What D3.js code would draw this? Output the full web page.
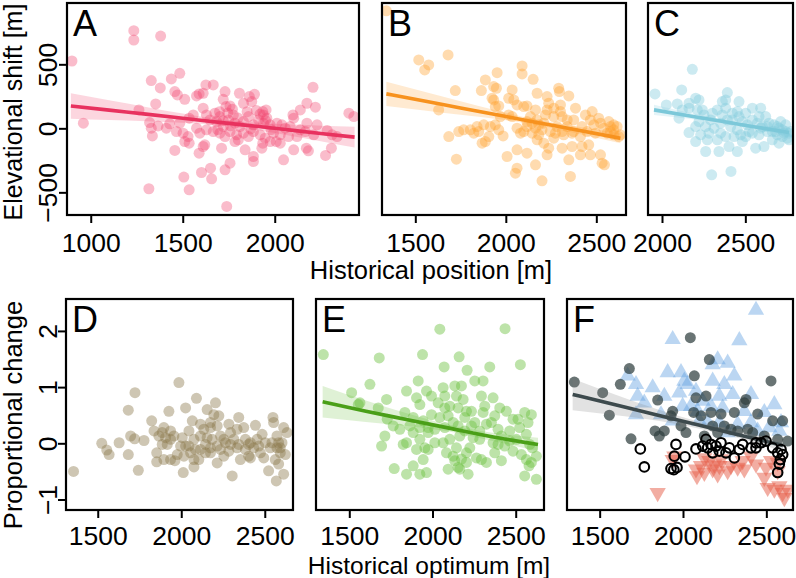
<!DOCTYPE html>
<html><head><meta charset="utf-8">
<script src="https://cdn.jsdelivr.net/npm/d3@7"></script>
<style>
body{margin:0;background:#fff}
svg{display:block}
text{font-family:"Liberation Sans",Arial,Helvetica,sans-serif;fill:#000}
</style>
</head><body>
<svg id="chart" width="796" height="578"></svg>
<script>
// ---------------- DATA ----------------
const panelLetters = ["A","B","C","D","E","F"];
const shiftTicks = [-500, 0, 500];
const propTicks = [-1, 0, 1, 2];
const xTicksA = [1000, 1500, 2000];
const xTicksB = [1500, 2000, 2500];
const xTicksC = [2000, 2500];
const xTicksLower = [1500, 2000, 2500];
const labelTopX = "Historical position [m]";
const labelBottomX = "Historical optimum [m]";
const labelTopY = "Elevational shift [m]";
const labelBottomY = "Proportional change";

// [historical position, elevational shift]
const shiftA = [[898,526],[960,40],[1234,763],[1234,690],[1380,721],[2208,321],[1438,386],[1484,430],[1329,373],[1378,316],[1457,287],[1471,261],[1511,227],[1575,253],[1589,269],[1626,339],[1666,339],[1611,274],[1730,287],[1808,274],[1862,248],[1890,266],[1720,227],[1735,170],[1757,175],[1830,196],[1875,209],[1953,144],[1935,131],[1939,105],[1353,191],[1262,144],[2175,196],[2221,165],[2139,144],[2099,105],[2103,79],[2403,118],[2430,92],[1320,45],[1366,19],[1429,35],[1484,40],[1535,79],[1557,105],[1611,157],[1629,105],[1648,66],[1675,118],[1684,53],[1702,92],[1720,14],[1748,66],[1775,105],[1784,40],[1811,14],[1830,53],[1857,92],[1884,27],[1912,66],[1939,40],[1957,79],[1975,27],[2012,40],[2039,27],[2057,1],[2084,14],[2139,-12],[2175,40],[2230,27],[2285,-17],[2312,-51],[2339,-64],[1329,1],[1335,-59],[1411,1],[1466,-25],[1502,-38],[1529,-64],[1575,1],[1593,-38],[1629,-12],[1666,-25],[1702,-38],[1730,-64],[1757,-25],[1793,-51],[1830,-38],[1857,-64],[1884,-25],[1921,-51],[1948,-77],[1993,-38],[2030,-51],[2075,-64],[2121,-64],[2166,-25],[2212,-51],[1457,-173],[1511,-103],[1535,-116],[1589,-194],[1611,-142],[1620,-129],[1711,-155],[1784,-103],[1802,-90],[1839,-168],[1884,-220],[1884,-259],[1930,-155],[1975,-103],[2008,-103],[2048,-246],[2103,-168],[2172,-155],[2183,-176],[2276,-212],[2308,-155],[1602,-345],[1651,-311],[1657,-394],[1730,-324],[1757,-272],[1506,-381],[1535,-480],[1316,-472],[1739,-610],[1935,-116],[2030,-116],[1700,130],[1745,120],[1770,150],[1800,80],[1850,130],[1900,140],[1920,110],[1950,60],[1760,20],[1690,-10],[1870,-5],[1980,-10],[1720,60]];
const shiftB = [[1340,918],[1519,534],[1574,495],[1552,456],[1681,573],[1721,295],[1629,144],[1685,-64],[1740,-25],[1727,-241],[1767,-12],[1841,14],[1850,-25],[1823,-38],[1869,-116],[1887,-103],[1865,295],[1887,378],[1952,435],[1933,326],[1948,313],[1924,235],[1942,170],[1961,175],[1915,14],[1942,27],[1961,-12],[1985,-59],[2016,105],[2035,300],[2016,235],[2044,222],[2062,1],[2081,-38],[2090,487],[2090,425],[2151,383],[2173,274],[2099,170],[2117,175],[2164,144],[2136,92],[2145,40],[2164,1],[2182,27],[2200,-12],[2219,105],[2228,248],[2237,196],[2265,92],[2292,313],[2296,287],[2302,183],[2302,131],[2348,253],[2385,157],[2283,14],[2311,-25],[2339,14],[2375,-25],[2421,14],[2440,105],[2477,131],[2486,27],[2513,79],[2523,40],[2541,1],[2569,53],[2578,14],[2596,-12],[2615,14],[2624,-64],[2596,-51],[2578,-25],[2007,-220],[2062,-168],[2117,-194],[2053,-350],[2062,-311],[2164,-285],[2200,-410],[2228,-207],[2237,-155],[2173,-90],[2210,-116],[2265,-77],[2311,-155],[2348,-246],[2357,-376],[2366,-142],[2412,-207],[2421,-142],[2458,-129],[2467,-207],[2523,-207],[2532,-272],[2545,-285],[2117,14],[2099,-25],[2145,-38],[2182,-51],[2246,-25],[2274,-38],[2320,-51],[2366,-38],[2412,-64],[2449,-25],[2495,-38],[2035,92],[2062,183],[2228,144],[2265,157],[2311,92],[2339,66],[2375,66],[2173,66],[2210,40],[2117,53],[1970,92],[1878,27],[1906,-64],[1804,-12],[1933,222],[2467,66],[2560,-38],[2596,27],[2633,-51]];
const shiftC = [[2182,461],[1958,269],[2118,300],[2026,183],[2092,191],[2162,196],[2202,235],[2222,222],[2392,279],[2382,222],[2362,209],[2462,209],[2102,79],[2162,157],[2212,144],[2252,105],[2302,118],[2332,144],[2362,105],[2422,118],[2452,131],[2502,118],[2542,157],[2592,157],[2622,92],[2582,92],[2162,-33],[2202,14],[2222,53],[2262,14],[2282,-38],[2312,1],[2352,40],[2392,66],[2412,14],[2452,-12],[2482,53],[2512,27],[2542,66],[2572,40],[2602,14],[2642,40],[2672,27],[2702,1],[2722,-12],[2742,-25],[2762,-38],[2752,-77],[2722,-64],[2692,-51],[2662,-25],[2632,-25],[2582,-51],[2542,-38],[2502,-64],[2472,-51],[2432,-64],[2382,-64],[2332,-90],[2272,-90],[2202,-103],[2262,-181],[2342,-181],[2402,-142],[2452,-181],[2562,-155],[2612,-142],[2702,-116],[2662,-90],[2298,-363],[2414,-337],[2762,-90],[2772,-25],[2712,53],[2422,66],[2292,66],[2462,92],[2242,144],[2122,144],[2382,157],[2522,-25],[2592,1],[2632,14],[2682,-25],[2732,-38],[2742,27],[2692,14],[2352,-38],[2232,-51],[2482,-103]];

// [historical optimum, proportional change]
const propD = [[1355,-0.50],[1524,0.00],[1554,-0.12],[1568,-0.20],[1628,0.01],[1683,0.59],[1723,0.90],[1683,-0.20],[1697,0.13],[1721,0.08],[1777,0.05],[1743,-0.48],[1823,0.40],[1837,0.22],[1866,0.13],[1886,0.19],[1906,0.10],[1936,0.22],[1936,0.07],[1956,0.13],[1853,-0.17],[1853,-0.33],[1896,-0.29],[1936,-0.29],[1962,-0.31],[1926,0.57],[1986,1.08],[2026,0.63],[2091,0.80],[2066,0.40],[2016,-0.23],[2012,-0.52],[2046,0.22],[2026,-0.05],[2076,0.07],[2085,-0.11],[2076,-0.29],[2076,-0.42],[2105,-0.29],[2115,0.13],[2145,-0.02],[2155,0.60],[2175,0.37],[2175,0.28],[2205,0.72],[2195,0.51],[2225,0.49],[2155,0.10],[2185,0.07],[2215,-0.05],[2175,-0.17],[2235,-0.11],[2265,0.01],[2235,0.13],[2215,-0.35],[2255,-0.23],[2285,-0.14],[2295,0.19],[2285,0.34],[2344,0.46],[2334,0.25],[2315,0.07],[2344,-0.02],[2374,0.28],[2384,0.07],[2404,-0.02],[2444,0.32],[2434,-0.08],[2414,-0.26],[2305,-0.58],[2354,-0.29],[2404,-0.23],[2464,-0.05],[2484,0.16],[2503,0.01],[2494,-0.26],[2523,-0.49],[2549,0.46],[2553,0.37],[2573,0.13],[2543,0.01],[2573,-0.08],[2593,-0.17],[2563,-0.29],[2583,-0.37],[2613,-0.55],[2569,-0.67],[2613,0.28],[2633,0.19],[2623,-0.20],[2603,0.01],[2135,0.25],[2115,-0.11],[2145,-0.17],[2295,-0.02],[2215,0.31],[2175,-0.08],[2384,-0.11],[2474,-0.17],[2533,-0.08],[1916,-0.02],[1886,-0.02],[1996,-0.05],[2046,-0.05],[2056,-0.17],[2006,0.10],[1896,0.28],[1976,-0.20],[2115,0.34],[2255,0.07],[2334,-0.08],[2414,0.01],[2454,0.07],[2593,-0.08],[2583,0.01]];
const propE = [[1344,1.58],[1680,1.52],[1624,1.05],[1514,0.90],[1564,0.72],[1554,0.69],[1674,0.63],[1724,0.78],[1728,0.43],[1714,0.13],[1694,-0.05],[1770,-0.45],[2044,2.03],[2436,2.04],[1940,1.58],[2160,1.54],[2070,1.36],[2208,1.30],[2344,1.36],[2528,1.40],[2254,1.11],[2304,1.11],[1914,1.11],[1964,0.93],[1844,0.93],[2064,0.99],[2134,1.02],[2174,1.02],[1904,0.81],[1924,0.69],[1994,0.84],[2034,0.72],[2074,0.84],[2104,0.66],[2144,0.84],[2184,0.78],[2204,0.57],[2234,0.57],[2294,0.84],[2364,0.81],[2314,0.66],[2404,0.63],[2444,0.57],[2374,0.49],[2484,0.43],[2554,0.55],[2594,0.51],[2574,0.37],[2524,0.28],[2564,0.16],[1834,0.55],[1884,0.46],[1944,0.40],[1994,0.51],[2044,0.46],[1864,0.31],[1924,0.28],[1974,0.19],[2014,0.25],[2074,0.28],[2124,0.37],[2154,0.31],[2194,0.22],[2234,0.31],[2284,0.22],[2324,0.34],[2354,0.37],[2394,0.25],[2414,0.13],[2464,0.22],[2504,0.07],[1844,0.01],[1824,-0.02],[1924,0.07],[1954,-0.08],[1904,-0.11],[1944,-0.29],[1884,-0.40],[1844,-0.55],[1924,-0.55],[1964,-0.52],[2014,0.01],[2084,-0.17],[2124,-0.23],[2134,-0.31],[2164,-0.46],[2174,-0.28],[2204,-0.17],[2224,-0.08],[2214,-0.55],[2264,-0.26],[2294,-0.29],[2324,-0.34],[2374,-0.17],[2414,-0.31],[2434,-0.05],[2484,-0.14],[2534,-0.20],[2564,-0.29],[2580,-0.40],[2594,-0.34],[2554,-0.58],[2624,-0.64],[2624,-0.23],[2600,-0.08],[2164,0.13],[2104,0.07],[2284,0.07],[2364,0.01],[2064,0.01],[2144,-0.08],[2094,-0.46],[2154,-0.43],[1974,0.28],[1764,0.31],[1804,0.25],[1974,-0.11],[2394,-0.02],[2464,0.04],[2254,0.37],[2304,0.55],[2094,0.49],[2194,0.46],[1884,0.19],[2514,0.43],[2584,-0.02],[2204,-0.34],[2074,0.63],[2154,0.63],[2244,0.10]];
const propFFilled = [[1348,1.09],[1518,0.90],[1558,0.50],[1678,1.33],[1624,1.05],[1688,0.08],[1832,0.22],[1858,0.13],[1888,0.22],[1848,0.77],[1938,0.57],[1928,0.49],[2018,0.19],[2044,1.88],[2158,1.49],[2068,1.20],[2078,0.81],[2138,0.84],[2064,0.55],[2168,0.55],[2228,0.52],[2308,0.55],[2368,0.72],[2378,0.78],[2448,0.52],[2388,0.25],[2328,0.22],[2178,0.31],[2128,0.13],[2528,1.11],[2538,0.40],[2598,0.40],[2628,0.04],[2418,0.19],[2248,0.31],[2208,0.19],[1988,0.31],[2288,0.25],[2488,0.13],[2568,0.07],[2108,0.49]];
const propFOpen = [[1744,-0.10],[1768,-0.42],[1958,-0.02],[1948,-0.23],[1928,-0.45],[1964,-0.43],[1945,-0.47],[2012,-0.24],[2078,-0.10],[2118,-0.05],[2138,0.07],[2148,-0.08],[2168,-0.02],[2198,-0.05],[2218,-0.14],[2228,0.01],[2258,-0.17],[2278,-0.08],[2308,-0.26],[2338,-0.11],[2358,-0.02],[2408,-0.08],[2438,0.01],[2468,0.01],[2538,-0.08],[2568,-0.17],[2588,-0.11],[2584,-0.29],[2578,-0.37],[2568,-0.52],[2598,-0.20],[2178,-0.17],[2438,-0.08],[2498,0.04]];
const propFUp = [[2438,2.37],[1938,1.85],[2338,1.83],[2208,1.49],[2268,1.43],[2178,1.40],[2308,1.20],[1908,1.26],[1988,1.26],[2178,1.11],[2248,1.05],[2028,1.05],[1818,0.99],[1718,1.05],[1728,0.84],[1668,1.20],[1888,0.84],[1978,0.90],[2078,0.93],[2218,0.84],[2298,0.87],[2408,0.87],[2548,0.69],[1998,0.66],[2168,0.66],[2238,0.63],[2368,0.57],[2488,0.55],[2588,0.37],[1718,0.51],[1868,0.51],[2098,0.40],[2148,0.37],[2218,0.37],[2328,0.34],[2448,0.22],[2578,0.22],[2048,0.66],[1768,0.72],[1938,0.40],[2088,0.57],[2408,0.37],[2518,0.28],[2268,0.19],[2118,0.75],[2008,1.11]];
const propFDown = [[1848,-0.88],[1948,-0.23],[2084,-0.58],[2108,-0.40],[2128,-0.26],[2158,-0.31],[2178,-0.46],[2208,-0.55],[2218,-0.40],[2228,-0.28],[2288,-0.40],[2328,-0.43],[2358,-0.31],[2408,-0.23],[2438,-0.37],[2498,-0.43],[2528,-0.31],[2568,-0.34],[2508,-0.79],[2548,-0.82],[2598,-0.88],[2608,-0.97],[2628,-0.82],[2578,-0.76],[2078,-0.46],[2128,-0.52],[2188,-0.37],[2268,-0.49],[2568,-0.49],[1938,-0.29],[2368,-0.46],[2488,-0.61]];

// regression fits: [x, fitted, lower CI, upper CI]
const fitA = [[892,175,75,275],[1100,142,65,219],[1300,111,55,167],[1500,79,43,115],[1750,39,17,61],[1950,8,-24,40],[2100,-16,-61,29],[2250,-40,-101,21],[2434,-69,-150,12]];
const fitB = [[1340,269,174,364],[1550,213,140,286],[1750,159,106,212],[1950,106,72,140],[2150,52,31,73],[2350,-1,-27,25],[2633,-77,-117,-37]];
const fitC = [[1952,144,104,184],[2150,101,76,126],[2350,57,42,72],[2550,13,1,25],[2762,-33,-53,-13]];
const fitE = [[1340,0.74,0.46,1.02],[1600,0.57,0.38,0.76],[1850,0.42,0.31,0.53],[2100,0.27,0.21,0.33],[2350,0.12,0.05,0.19],[2634,-0.02,-0.14,0.10]];
const fitF = [[1338,0.87,0.59,1.15],[1600,0.68,0.50,0.86],[1850,0.50,0.40,0.60],[2100,0.32,0.26,0.38],[2350,0.14,0.08,0.20],[2600,-0.04,-0.14,0.06]];

// ---------------- LAYOUT ----------------
const FONT = 26.5;
const TITLE_FONT = 25.5;
const svg = d3.select("#chart");
const topDomainY = [-677, 979];
const botDomainY = [-1.187, 2.568];

const panels = [
  {id:0, x0:67,  x1:359, y0:3,   y1:215, xd:[871,2458],  yd:topDomainY, xt:xTicksA, yt:shiftTicks,
   layers:[{type:"circle", data:shiftA, color:"#F0456F", op:0.36}], fit:fitA, fitColor:"#E8325F", bandColor:"#F0456F"},
  {id:1, x0:382, x1:626, y0:3,   y1:215, xd:[1316,2664], yd:topDomainY, xt:xTicksB,
   layers:[{type:"circle", data:shiftB, color:"#FFA12C", op:0.38}], fit:fitB, fitColor:"#F7921E", bandColor:"#FFA12C"},
  {id:2, x0:648, x1:793, y0:3,   y1:215, xd:[1916,2786], yd:topDomainY, xt:xTicksC,
   layers:[{type:"circle", data:shiftC, color:"#86CEDE", op:0.42}], fit:fitC, fitColor:"#7CC8D9", bandColor:"#86CEDE"},
  {id:3, x0:66,  x1:293, y0:299, y1:510, xd:[1310,2669], yd:botDomainY, xt:xTicksLower, yt:propTicks,
   layers:[{type:"circle", data:propD, color:"#8A7649", op:0.42}]},
  {id:4, x0:316, x1:544, y0:299, y1:510, xd:[1300,2670], yd:botDomainY, xt:xTicksLower,
   layers:[{type:"circle", data:propE, color:"#6CC040", op:0.45}], fit:fitE, fitColor:"#4A9F18", bandColor:"#6CC040"},
  {id:5, x0:567, x1:793, y0:299, y1:510, xd:[1304,2660], yd:botDomainY, xt:xTicksLower,
   layers:[
     {type:"up", data:propFUp, color:"#5E9EE0", op:0.42},
     {type:"down", data:propFDown, color:"#E55B45", op:0.5},
     {type:"circle", data:propFFilled, color:"#2F3F3F", op:0.72},
     {type:"fit"},
     {type:"open", data:propFOpen}
   ], fit:fitF, fitColor:"#3D4A4D", bandColor:"#7A7A7A"}
];

const defs = svg.append("defs");

panels.forEach(p => {
  const x = d3.scaleLinear().domain(p.xd).range([p.x0, p.x1]);
  const y = d3.scaleLinear().domain(p.yd).range([p.y1, p.y0]);
  const clipId = "clip" + p.id;
  defs.append("clipPath").attr("id", clipId)
    .append("rect").attr("x", p.x0).attr("y", p.y0).attr("width", p.x1 - p.x0).attr("height", p.y1 - p.y0);
  const g = svg.append("g").attr("clip-path", `url(#${clipId})`);

  const drawFit = () => {
    if (!p.fit) return;
    const area = d3.area().x(d => x(d[0])).y0(d => y(d[2])).y1(d => y(d[3])).curve(d3.curveMonotoneX);
    g.append("path").datum(p.fit).attr("d", area)
      .attr("fill", p.bandColor).attr("fill-opacity", 0.22);
    const line = d3.line().x(d => x(d[0])).y(d => y(d[1])).curve(d3.curveMonotoneX);
    g.append("path").datum(p.fit).attr("d", line)
      .attr("fill", "none").attr("stroke", p.fitColor).attr("stroke-width", 3.6).attr("stroke-linecap", "butt");
  };

  let fitDrawn = false;
  p.layers.forEach(L => {
    if (L.type === "circle") {
      g.append("g").selectAll("circle").data(L.data).join("circle")
        .attr("cx", d => x(d[0])).attr("cy", d => y(d[1])).attr("r", 5.5)
        .attr("fill", L.color).attr("fill-opacity", L.op);
    } else if (L.type === "up" || L.type === "down") {
      const sym = d3.symbol().type(d3.symbolTriangle).size(115);
      g.append("g").selectAll("path").data(L.data).join("path")
        .attr("d", sym)
        .attr("transform", d => `translate(${x(d[0])},${y(d[1])})` + (L.type === "down" ? " rotate(180)" : ""))
        .attr("fill", L.color).attr("fill-opacity", L.op);
    } else if (L.type === "open") {
      g.append("g").selectAll("circle").data(L.data).join("circle")
        .attr("cx", d => x(d[0])).attr("cy", d => y(d[1])).attr("r", 4.8)
        .attr("fill", "none").attr("stroke", "#000").attr("stroke-width", 2.1);
    } else if (L.type === "fit") {
      drawFit(); fitDrawn = true;
    }
  });
  if (!fitDrawn) drawFit();

  // box
  svg.append("rect").attr("x", p.x0).attr("y", p.y0).attr("width", p.x1 - p.x0).attr("height", p.y1 - p.y0)
    .attr("fill", "none").attr("stroke", "#000").attr("stroke-width", 2.2);

  // x axis
  const xa = svg.append("g").attr("transform", `translate(0,${p.y1})`)
    .call(d3.axisBottom(x).tickValues(p.xt).tickSize(8).tickSizeOuter(0).tickPadding(p.y0 < 100 ? 10 : 8.5).tickFormat(d3.format("d")));
  xa.select(".domain").remove();
  xa.selectAll("line").attr("stroke", "#000").attr("stroke-width", 2);
  xa.selectAll("text").attr("font-size", FONT).attr("font-family", null);

  // y axis
  if (p.yt) {
    const ya = svg.append("g").attr("transform", `translate(${p.x0},0)`)
      .call(d3.axisLeft(y).tickValues(p.yt).tickSize(8).tickSizeOuter(0).tickFormat(d3.format("d")));
    ya.select(".domain").remove();
    ya.selectAll("line").attr("stroke", "#000").attr("stroke-width", 2);
    ya.selectAll("text").attr("font-size", FONT).attr("font-family", null)
      .attr("x", null).attr("dy", null).attr("text-anchor", "middle")
      .attr("transform", `translate(${-(p.x0 - 57)},0) rotate(-90)`);
  }

  // panel letter
  svg.append("text").attr("x", p.x0 + 6).attr("y", p.y0 + 33)
    .attr("font-size", 36).text(panelLetters[p.id]);
});

// axis titles
svg.append("text").attr("x", 431).attr("y", 279).attr("text-anchor", "middle").attr("font-size", TITLE_FONT).text(labelTopX);
svg.append("text").attr("x", 429).attr("y", 574).attr("text-anchor", "middle").attr("font-size", 24.5).text(labelBottomX);
svg.append("text").attr("transform", "translate(22,112) rotate(-90)").attr("text-anchor", "middle").attr("font-size", 25).text(labelTopY);
svg.append("text").attr("transform", "translate(22,415) rotate(-90)").attr("text-anchor", "middle").attr("font-size", TITLE_FONT).text(labelBottomY);
</script>
</body></html>
